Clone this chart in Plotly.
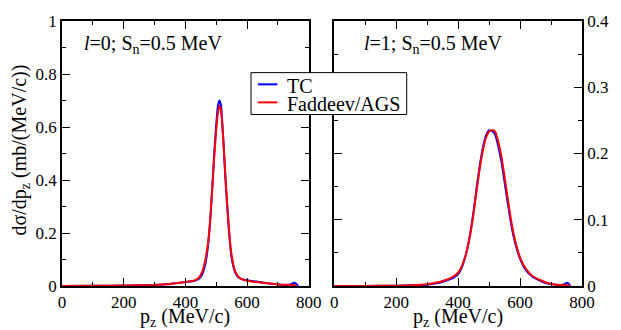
import plotly.graph_objects as go

# ---- data ----
# left panel: l=0
l0_tc_pz = [0,100,200,250,300,350,400,430,445,455,465,470,475,480,485,490,495,500,505,510,
            515,520,525,530,535,540,545,550,560,570,580,600,650,700,730,745,752,758,763,766]
l0_tc_val = [0,0.0005,0.0015,0.0025,0.004,0.008,0.015,0.02,0.028,0.045,0.085,0.12,0.17,0.24,0.33,0.43,0.53,0.61,0.675,0.70,
             0.685,0.61,0.51,0.40,0.31,0.225,0.155,0.105,0.055,0.035,0.027,0.022,0.013,0.006,0.004,0.008,0.012,0.01,0.004,0]
l0_fad_pz = [0,100,200,250,300,350,400,430,445,455,465,470,475,480,485,490,495,500,505,510,
             515,520,525,530,535,540,545,550,560,570,580,600,650,700,750,760]
l0_fad_val = [0,0.0005,0.0015,0.0025,0.004,0.008,0.015,0.021,0.033,0.055,0.10,0.135,0.18,0.245,0.33,0.42,0.51,0.59,0.65,0.68,
              0.665,0.60,0.51,0.41,0.32,0.235,0.165,0.115,0.06,0.037,0.027,0.02,0.012,0.006,0.004,0.003]

# right panel: l=1
l1_fad_pz = [0,100,200,250,300,320,340,360,380,390,400,410,420,430,440,450,460,470,480,490,500,510,
             515,520,530,540,550,560,570,580,590,600,620,640,660,680,700,730,760]
l1_fad_val = [0,0.0001,0.0005,0.001,0.0025,0.004,0.006,0.009,0.013,0.016,0.02,0.028,0.04,0.057,0.08,0.11,0.145,0.178,0.205,0.224,0.233,0.235,
              0.235,0.233,0.217,0.195,0.165,0.133,0.102,0.077,0.058,0.043,0.025,0.015,0.01,0.006,0.003,0.0015,0.001]
l1_tc_pz = [0,100,200,250,300,320,340,360,380,390,400,410,420,430,440,450,460,470,480,490,500,510,
            515,520,530,540,550,560,570,580,590,600,620,640,660,680,700,730,745,752,758,762]
l1_tc_val = [0,0.0001,0.0005,0.001,0.002,0.0035,0.005,0.008,0.011,0.014,0.018,0.026,0.039,0.057,0.082,0.113,0.149,0.182,0.209,0.227,0.235,0.234,
             0.232,0.228,0.21,0.187,0.157,0.126,0.097,0.073,0.055,0.041,0.023,0.014,0.009,0.005,0.003,0.0015,0.003,0.005,0.003,0]

series_names = ["TC", "Faddeev/AGS"]
x_ticks = [0, 200, 400, 600, 800]
y_ticks_left = [0, 0.2, 0.4, 0.6, 0.8, 1]
y_ticks_left_text = ["0", "0.2", "0.4", "0.6", "0.8", "1"]
y_ticks_right = [0, 0.1, 0.2, 0.3, 0.4]
y_ticks_right_text = ["0", "0.1", "0.2", "0.3", "0.4"]

FONT = "Liberation Serif"
BLUE = "#0000ff"
RED = "#ff0000"
COLORS = [BLUE, RED]

W, H = 621, 330
ml, mr, mt, mb = 62, 28, 14, 44
pw = W - ml - mr
ph = H - mt - mb
d1 = (314 - ml) / pw
d2 = (340 - ml) / pw


def px(xp):
    return (xp - ml) / pw


def py(yp):
    return (H - mb - yp) / ph


fig = go.Figure()
for xs, ys, col, ax in [(l0_tc_pz, l0_tc_val, BLUE, "1"), (l0_fad_pz, l0_fad_val, RED, "1"),
                        (l1_tc_pz, l1_tc_val, BLUE, "2"), (l1_fad_pz, l1_fad_val, RED, "2")]:
    fig.add_trace(go.Scatter(x=xs, y=ys, mode="lines", showlegend=False,
                             line=dict(color=col, width=2, shape="spline", smoothing=0.6),
                             xaxis="x" if ax == "1" else "x2", yaxis="y" if ax == "1" else "y2"))

common_x = dict(range=[0, 800], tickvals=x_ticks, ticks="inside", ticklen=8, tickwidth=1,
                tickcolor="black", showline=True, linecolor="black", linewidth=1.5,
                mirror="ticks", showgrid=False, zeroline=False,
                minor=dict(ticks="inside", ticklen=4, dtick=100, tickcolor="black", showgrid=False),
                tickfont=dict(family=FONT, size=17, color="black"))
common_y = dict(ticks="inside", ticklen=8, tickwidth=1, tickcolor="black", showline=True,
                linecolor="black", linewidth=1.5, mirror="ticks", showgrid=False, zeroline=False,
                tickfont=dict(family=FONT, size=17, color="black"))

fig.update_layout(
    width=W, height=H,
    margin=dict(l=ml, r=mr, t=mt, b=mb),
    paper_bgcolor="white", plot_bgcolor="white",
    font=dict(family=FONT, color="black"),
    xaxis=dict(domain=[0, d1], anchor="y", **common_x),
    xaxis2=dict(domain=[d2, 1], anchor="y2", **common_x),
    yaxis=dict(domain=[0, 1], anchor="x", range=[0, 1], tickvals=y_ticks_left,
               ticktext=y_ticks_left_text,
               minor=dict(ticks="inside", ticklen=4, dtick=0.1, tickcolor="black", showgrid=False),
               **common_y),
    yaxis2=dict(domain=[0, 1], anchor="x2", side="right", range=[0, 0.4], tickvals=y_ticks_right,
                ticktext=y_ticks_right_text,
                minor=dict(ticks="inside", ticklen=4, dtick=0.05, tickcolor="black", showgrid=False),
                **common_y),
    showlegend=False,
)

# panel labels
fig.add_annotation(text="<i>l</i>=0; S<sub>n</sub>=0.5 MeV", xref="paper", yref="paper",
                   x=px(82), y=py(38), xanchor="left", yanchor="middle",
                   showarrow=False, font=dict(family=FONT, size=20, color="black"))
fig.add_annotation(text="<i>l</i>=1; S<sub>n</sub>=0.5 MeV", xref="paper", yref="paper",
                   x=px(368), y=py(38), xanchor="left", yanchor="middle",
                   showarrow=False, font=dict(family=FONT, size=20, color="black"))
# axis titles
fig.add_annotation(text="dσ/dp<sub>z</sub> (mb/(MeV/c))", xref="paper", yref="paper",
                   x=px(20), y=py(146), xanchor="center", yanchor="middle", textangle=-90,
                   showarrow=False, font=dict(family=FONT, size=20, color="black"))
for cx in [(62 + 314) / 2, (340 + 593) / 2]:
    fig.add_annotation(text="p<sub>z</sub> (MeV/c)", xref="paper", yref="paper",
                       x=px(cx), y=py(318), xanchor="center", yanchor="middle",
                       showarrow=False, font=dict(family=FONT, size=20, color="black"))

# legend box drawn by hand (xmgrace-style, compact)
fig.add_shape(type="rect", xref="paper", yref="paper", x0=px(255), x1=px(414), y0=py(110), y1=py(67),
              fillcolor="white", line=dict(color="black", width=1), layer="above")
for i, (name, col) in enumerate(zip(series_names, COLORS)):
    yl = 79 + i * 18.5
    fig.add_shape(type="line", xref="paper", yref="paper", x0=px(262), x1=px(282), y0=py(yl), y1=py(yl),
                  line=dict(color=col, width=2), layer="above")
    fig.add_annotation(text=name, xref="paper", yref="paper", x=px(290), y=py(yl + 1.5),
                       xanchor="left", yanchor="middle", showarrow=False,
                       font=dict(family=FONT, size=20, color="black"))

fig.write_html("out.html", config={"displayModeBar": False},
               post_script="document.body.style.margin='0';document.body.style.overflow='hidden';")
